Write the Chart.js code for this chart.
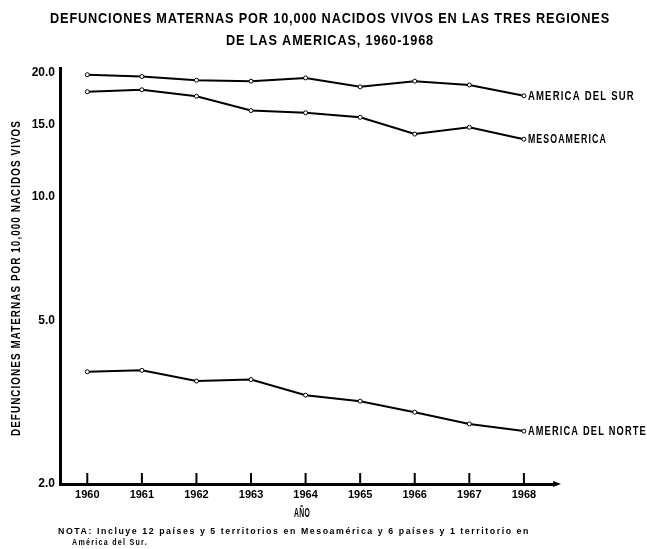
<!DOCTYPE html>
<html>
<head>
<meta charset="utf-8">
<script src="https://cdn.jsdelivr.net/npm/chart.js@4/dist/chart.umd.min.js"></script>
<style>
  html, body { margin: 0; padding: 0; background: #fff; }
  #wrap { width: 647px; height: 549px; position: relative; }
</style>
</head>
<body>
<div id="wrap"><canvas id="c" width="647" height="549"></canvas></div>
<script>
const years = [1960, 1961, 1962, 1963, 1964, 1965, 1966, 1967, 1968];
const surValues = [19.8, 19.6, 19.2, 19.1, 19.45, 18.5, 19.1, 18.7, 17.6];
const mesoValues = [18.0, 18.2, 17.55, 16.2, 16.0, 15.6, 14.2, 14.75, 13.8];
const norteValues = [3.75, 3.78, 3.56, 3.59, 3.29, 3.18, 2.99, 2.80, 2.69];
const seriesNames = ['AMERICA DEL SUR', 'MESOAMERICA', 'AMERICA DEL NORTE'];
const labelWidths = [107, 79, 119];
const yTicks = [2, 5, 10, 15, 20];

const FONT = '"Liberation Sans", Arial, sans-serif';

const toPoints = vals => vals.map((v, i) => ({ x: years[i], y: v }));

const lineStyle = {
  borderColor: '#000',
  borderWidth: 2,
  pointRadius: 2,
  pointBorderWidth: 1,
  pointBackgroundColor: '#fff',
  pointBorderColor: '#000',
  tension: 0,
  fill: false
};

// draw text squeezed/stretched horizontally to a given width (the original uses a condensed face)
function fitText(ctx, text, x, y, width, align) {
  const w = ctx.measureText(text).width;
  const k = width / w;
  let left = x;
  if (align === 'center') left = x - width / 2;
  if (align === 'right') left = x - width;
  ctx.save();
  ctx.textAlign = 'left';
  ctx.translate(left, y);
  ctx.scale(k, 1);
  ctx.fillText(text, 0, 0);
  ctx.restore();
}

const decorations = {
  id: 'decorations',
  afterDraw(chart) {
    const { ctx, chartArea, scales } = chart;
    const xs = scales.x;
    ctx.save();
    ctx.fillStyle = '#000';
    ctx.strokeStyle = '#000';
    ctx.textBaseline = 'middle';

    // title
    ctx.font = 'bold 15px ' + FONT;
    ctx.letterSpacing = '1px';
    fitText(ctx, 'DEFUNCIONES MATERNAS POR 10,000 NACIDOS VIVOS EN LAS TRES REGIONES', 50, 19, 560);
    fitText(ctx, 'DE LAS AMERICAS, 1960-1968', 226, 41, 208);

    // year ticks going up from the axis
    ctx.lineWidth = 2;
    years.forEach(yr => {
      const x = xs.getPixelForValue(yr);
      ctx.beginPath();
      ctx.moveTo(x, chartArea.bottom);
      ctx.lineTo(x, chartArea.bottom - 11);
      ctx.stroke();
    });

    // arrow at the end of the x axis
    ctx.beginPath();
    ctx.moveTo(chartArea.right + 6, chartArea.bottom);
    ctx.lineTo(chartArea.right - 2, chartArea.bottom - 3);
    ctx.lineTo(chartArea.right - 2, chartArea.bottom + 3);
    ctx.closePath();
    ctx.fill();

    // series labels at line ends
    ctx.font = 'bold 12px ' + FONT;
    ctx.letterSpacing = '1.5px';
    chart.data.datasets.forEach((ds, i) => {
      const pts = chart.getDatasetMeta(i).data;
      const last = pts[pts.length - 1];
      fitText(ctx, seriesNames[i], last.x + 4, last.y + 1, labelWidths[i]);
    });

    // y axis title
    ctx.save();
    ctx.translate(17, 278);
    ctx.rotate(-Math.PI / 2);
    ctx.font = 'bold 12px ' + FONT;
    ctx.letterSpacing = '1.3px';
    fitText(ctx, 'DEFUNCIONES MATERNAS POR 10,000 NACIDOS VIVOS', 0, 0, 316, 'center');
    ctx.restore();

    // x axis title
    ctx.font = 'bold 12px ' + FONT;
    ctx.letterSpacing = '0.5px';
    fitText(ctx, 'AÑO', 302, 514, 16, 'center');

    // note
    ctx.font = 'bold 9px ' + FONT;
    ctx.letterSpacing = '1.6px';
    fitText(ctx, 'NOTA: Incluye 12 países y 5 territorios en Mesoamérica y 6 países y 1 territorio en', 58, 532, 472);
    fitText(ctx, 'América del Sur.', 72, 543, 76);

    ctx.restore();
  }
};

new Chart(document.getElementById('c'), {
  type: 'line',
  data: {
    datasets: [
      Object.assign({ label: seriesNames[0], data: toPoints(surValues) }, lineStyle),
      Object.assign({ label: seriesNames[1], data: toPoints(mesoValues) }, lineStyle),
      Object.assign({ label: seriesNames[2], data: toPoints(norteValues) }, lineStyle)
    ]
  },
  options: {
    responsive: false,
    animation: false,
    layout: { padding: { top: 68, right: 92, bottom: 0, left: 0 } },
    plugins: {
      legend: { display: false },
      title: { display: false },
      tooltip: { enabled: false }
    },
    scales: {
      x: {
        type: 'linear',
        min: 1959.5,
        max: 1968.57,
        afterBuildTicks: s => { s.ticks = years.map(v => ({ value: v })); },
        afterFit: s => { s.height = 65; },
        grid: { display: false, drawTicks: false },
        border: { display: true, color: '#000', width: 3 },
        ticks: {
          padding: 4,
          color: '#000',
          font: { family: FONT, size: 11, weight: 'bold' },
          callback: v => String(v)
        }
      },
      y: {
        type: 'logarithmic',
        min: 2,
        max: 20.56,
        afterBuildTicks: s => { s.ticks = yTicks.map(v => ({ value: v })); },
        afterFit: s => { s.width = 60; },
        grid: { display: false, drawTicks: true, tickLength: 3, color: '#000' },
        border: { display: true, color: '#000', width: 3 },
        ticks: {
          padding: 2,
          color: '#000',
          font: { family: FONT, size: 12, weight: 'bold' },
          callback: v => Number(v).toFixed(1)
        }
      }
    }
  },
  plugins: [decorations]
});
</script>
</body>
</html>
